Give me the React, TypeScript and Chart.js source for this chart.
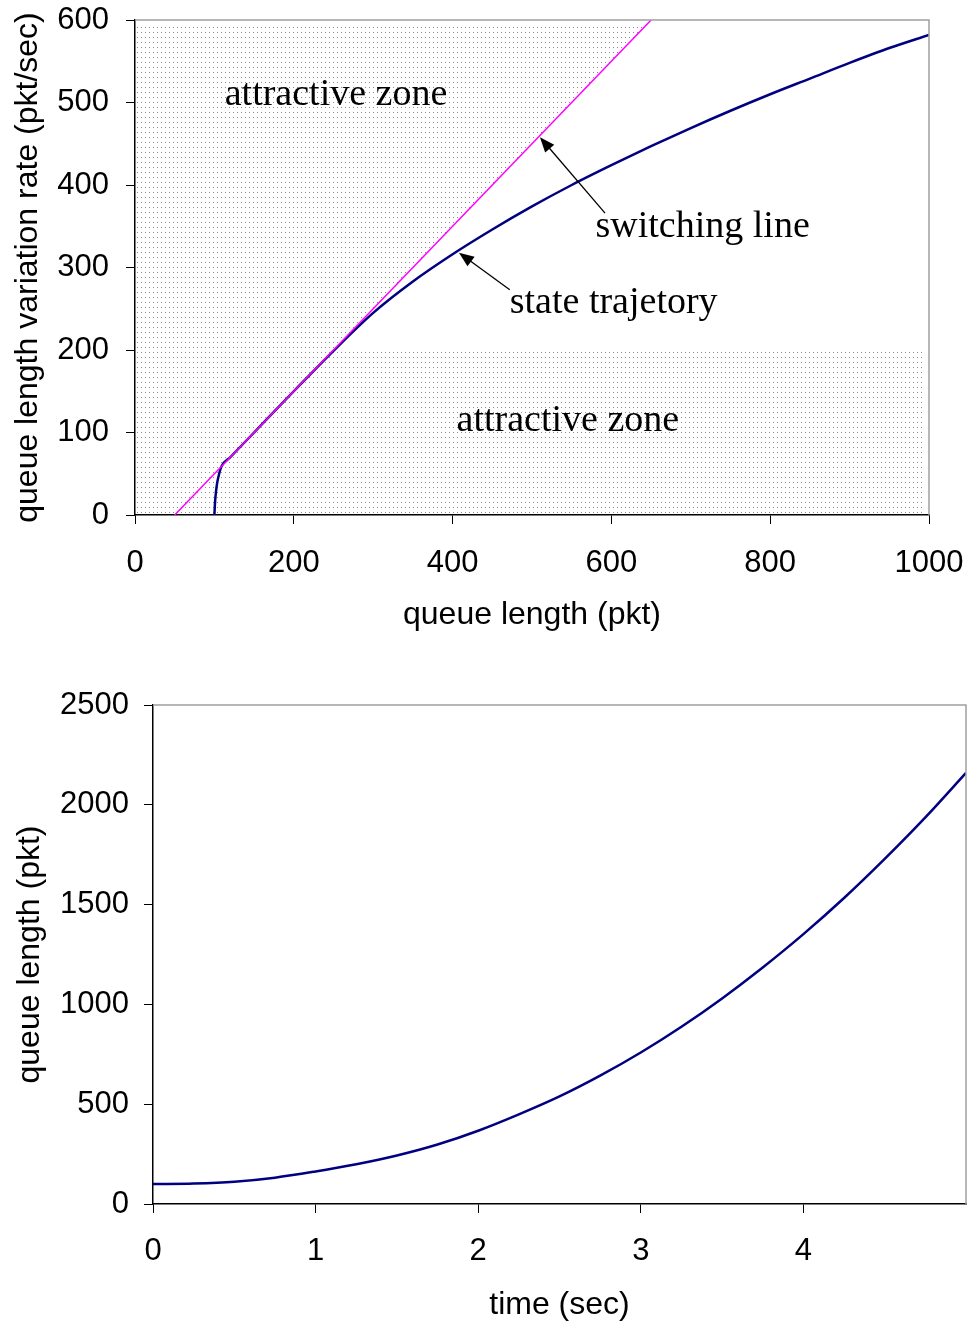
import React, { useEffect, useRef } from "react";
import { Chart, registerables } from "chart.js";

Chart.register(...registerables);

// ---------- Top chart data ----------
const trajX = [100, 100.5, 101, 102, 103.5, 106, 109, 120, 150, 200, 250, 300, 350, 400, 450, 500, 550, 600, 650, 700, 750, 800, 850, 900, 950, 1000];
const trajY = [0, 10, 18, 28, 39, 50, 59, 70, 100, 150, 199, 245, 283, 316, 346, 374, 400, 424, 447, 469, 490, 510, 529, 548, 566, 582];
const switchX = [50, 650];
const switchY = [0, 600];
const zoneX = [0, 1000, 1000, 250, 650, 0];
const zoneY = [0, 0, 200, 200, 600, 600];
const topXTitle = "queue length (pkt)";
const topYTitle = "queue length variation rate (pkt/sec)";
const topLabels = [
  { text: "attractive zone", x: 113, y: 509 },
  { text: "attractive zone", x: 405, y: 114 },
  { text: "switching line", x: 580, y: 349 },
  { text: "state trajetory", x: 472, y: 257 },
];
const topArrows = [
  { fromX: 592, fromY: 366, toX: 510, toY: 458 },
  { fromX: 472, fromY: 273, toX: 408, toY: 318 },
];

// ---------- Bottom chart data ----------
const timeX = [0, 0.25, 0.5, 0.75, 1, 1.25, 1.5, 1.75, 2, 2.25, 2.5, 2.75, 3, 3.25, 3.5, 3.75, 4, 4.25, 4.5, 4.75, 5];
const queueY = [100, 103, 112, 132, 163, 199, 243, 298, 367, 449, 539, 643, 759, 888, 1030, 1185, 1352, 1533, 1729, 1937, 2160];
const botXTitle = "time (sec)";
const botYTitle = "queue length (pkt)";

const SANS = "'Liberation Sans', Arial, sans-serif";
const SERIF = "'Liberation Serif', 'Times New Roman', serif";
const TICK_SIZE = 31;
const TITLE_SIZE = 32;

const frame = {
  id: "frame",
  afterDraw(chart: any) {
    const { ctx, chartArea: a } = chart;
    ctx.save();
    ctx.strokeStyle = "#a0a0a0";
    ctx.lineWidth = 1.5;
    ctx.beginPath();
    ctx.moveTo(a.left, a.top);
    ctx.lineTo(a.right, a.top);
    ctx.lineTo(a.right, a.bottom);
    ctx.stroke();
    ctx.restore();
  },
};

function makePattern(ctx: CanvasRenderingContext2D) {
  const tile = document.createElement("canvas");
  tile.width = 4;
  tile.height = 5;
  const t = tile.getContext("2d")!;
  t.fillStyle = "#8c8c8c";
  t.fillRect(1, 2, 1, 1);
  return ctx.createPattern(tile, "repeat");
}

const zones = {
  id: "zones",
  beforeDatasetsDraw(chart: any) {
    const { ctx, chartArea: a, scales } = chart;
    const xs = scales.x, ys = scales.y;
    ctx.save();
    ctx.beginPath();
    ctx.rect(a.left + 2, a.top + 5, a.right - a.left - 6, a.bottom - a.top - 6);
    ctx.clip();
    ctx.beginPath();
    zoneX.forEach((v, i) => {
      const px = xs.getPixelForValue(v);
      const py = ys.getPixelForValue(zoneY[i]);
      if (i === 0) ctx.moveTo(px, py);
      else ctx.lineTo(px, py);
    });
    ctx.closePath();
    ctx.fillStyle = makePattern(ctx) as any;
    ctx.fill();
    ctx.restore();
  },
};

const notes = {
  id: "notes",
  afterDatasetsDraw(chart: any) {
    const { ctx, scales } = chart;
    const xs = scales.x, ys = scales.y;
    ctx.save();
    ctx.fillStyle = "#000";
    ctx.font = `38px ${SERIF}`;
    ctx.textAlign = "left";
    ctx.textBaseline = "middle";
    topLabels.forEach((l) => {
      ctx.fillText(l.text, xs.getPixelForValue(l.x), ys.getPixelForValue(l.y));
    });
    topArrows.forEach((ar) => {
      const x1 = xs.getPixelForValue(ar.fromX);
      const y1 = ys.getPixelForValue(ar.fromY);
      const x2 = xs.getPixelForValue(ar.toX);
      const y2 = ys.getPixelForValue(ar.toY);
      const ang = Math.atan2(y2 - y1, x2 - x1);
      const len = 15, hw = 6;
      ctx.strokeStyle = "#000";
      ctx.lineWidth = 1.3;
      ctx.beginPath();
      ctx.moveTo(x1, y1);
      ctx.lineTo(x2 - Math.cos(ang) * len * 0.8, y2 - Math.sin(ang) * len * 0.8);
      ctx.stroke();
      const bx = x2 - Math.cos(ang) * len;
      const by = y2 - Math.sin(ang) * len;
      ctx.beginPath();
      ctx.moveTo(x2, y2);
      ctx.lineTo(bx + Math.sin(ang) * hw, by - Math.cos(ang) * hw);
      ctx.lineTo(bx - Math.sin(ang) * hw, by + Math.cos(ang) * hw);
      ctx.closePath();
      ctx.fill();
    });
    ctx.restore();
  },
};

function axisCommon(tickPad: number, step: number) {
  return {
    grid: { display: true, drawOnChartArea: false, drawTicks: true, tickLength: 9, color: "#000", lineWidth: 1 },
    border: { display: true, color: "#000", width: 1.5 },
    ticks: {
      color: "#000",
      font: { family: SANS, size: TICK_SIZE },
      padding: tickPad,
      autoSkip: false,
      maxRotation: 0,
      stepSize: step,
      callback: (v: any) => String(v),
    },
  };
}

const fitX = (h: number) => (s: any) => {
  s.height = h;
  s.paddingLeft = 0;
  s.paddingRight = 0;
  s.paddingTop = 0;
  s.paddingBottom = 0;
};
const fitY = (w: number) => (s: any) => {
  s.width = w;
  s.paddingLeft = 0;
  s.paddingRight = 0;
  s.paddingTop = 0;
  s.paddingBottom = 0;
};

const titleFont = { family: SANS, size: TITLE_SIZE, lineHeight: 1.2 };

function TopChart() {
  const ref = useRef<HTMLCanvasElement>(null);
  useEffect(() => {
    const chart = new Chart(ref.current!, {
      type: "scatter",
      data: {
        datasets: [
          {
            data: switchX.map((x, i) => ({ x, y: switchY[i] })),
            showLine: true,
            borderColor: "#ff00ff",
            borderWidth: 1.5,
            pointRadius: 0,
          },
          {
            data: trajX.map((x, i) => ({ x, y: trajY[i] })),
            showLine: true,
            borderColor: "#000080",
            borderWidth: 2.5,
            pointRadius: 0,
            cubicInterpolationMode: "monotone",
          },
        ],
      },
      options: {
        responsive: false,
        animation: false,
        devicePixelRatio: 1,
        layout: { padding: { top: 20, right: 40, left: 0, bottom: 0 } },
        plugins: { legend: { display: false }, tooltip: { enabled: false } },
        scales: {
          x: {
            type: "linear",
            min: 0,
            max: 1000,
            ...axisCommon(21, 200),
            title: { display: true, text: topXTitle, color: "#000", font: titleFont, padding: { top: 0, bottom: 16 } },
            afterFit: fitX(135),
          },
          y: {
            type: "linear",
            min: 0,
            max: 600,
            ...axisCommon(17, 100),
            title: { display: true, text: topYTitle, color: "#000", font: titleFont, padding: { top: 9, bottom: 0 } },
            afterFit: fitY(135),
          },
        },
      } as any,
      plugins: [zones, notes, frame],
    });
    return () => chart.destroy();
  }, []);
  return <canvas ref={ref} width={969} height={650} style={{ display: "block", width: 969, height: 650 }} />;
}

function BottomChart() {
  const ref = useRef<HTMLCanvasElement>(null);
  useEffect(() => {
    const chart = new Chart(ref.current!, {
      type: "scatter",
      data: {
        datasets: [
          {
            data: timeX.map((x, i) => ({ x, y: queueY[i] })),
            showLine: true,
            borderColor: "#000080",
            borderWidth: 2.5,
            pointRadius: 0,
            cubicInterpolationMode: "monotone",
          },
        ],
      },
      options: {
        responsive: false,
        animation: false,
        devicePixelRatio: 1,
        layout: { padding: { top: 55, right: 3, left: 0, bottom: 0 } },
        plugins: { legend: { display: false }, tooltip: { enabled: false } },
        scales: {
          x: {
            type: "linear",
            min: 0,
            max: 5,
            ...axisCommon(20, 1),
            afterBuildTicks: (s: any) => { s.ticks = s.ticks.filter((t: any) => t.value <= 4); },
            title: { display: true, text: botXTitle, color: "#000", font: titleFont, padding: { top: 0, bottom: 0 } },
            afterFit: fitX(120),
          },
          y: {
            type: "linear",
            min: 0,
            max: 2500,
            ...axisCommon(15, 500),
            title: { display: true, text: botYTitle, color: "#000", font: titleFont, padding: { top: 11, bottom: 0 } },
            afterFit: fitY(153),
          },
        },
      } as any,
      plugins: [frame],
    });
    return () => chart.destroy();
  }, []);
  return <canvas ref={ref} width={969} height={674} style={{ display: "block", width: 969, height: 674 }} />;
}

export default function App() {
  return (
    <div style={{ position: "absolute", left: 0, top: 0, width: 969, height: 1324, background: "#fff" }}>
      <TopChart />
      <BottomChart />
    </div>
  );
}
